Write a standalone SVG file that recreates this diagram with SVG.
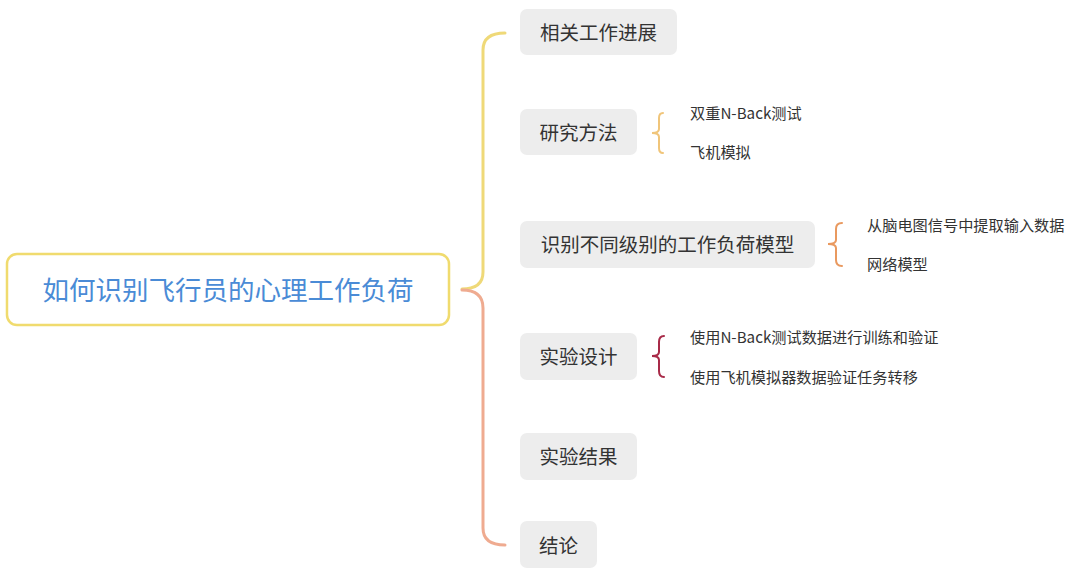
<svg xmlns="http://www.w3.org/2000/svg" width="1080" height="572" viewBox="0 0 1080 572">
<style>
text{font-family:"Noto Sans CJK SC","Liberation Sans",sans-serif;fill:#333333;dominant-baseline:central}
.node{fill:#ededed}
.t{font-size:19.5px;text-anchor:middle}
.c{font-size:15.2px}
.ln{fill:none;stroke-width:3;stroke-linecap:round}
.br{fill:none;stroke-width:2;stroke-linecap:round}
</style>
<rect width="1080" height="572" fill="#ffffff"/>
<g id="connectors">
<path class="ln" stroke="#efd978" d="M462,289 Q483,289 483,272 L483,50 Q483,33 505,33"/>
<path class="ln" stroke="#efab90" d="M462,290 Q483,290 483,308 L483,528 Q483,545 505,545"/>
<path class="br" stroke="#f0c57a" d="M663,113 Q659,113 659,118 L659,129 Q659,133 652,133 Q659,133 659,137 L659,148 Q659,153 663,153"/>
<path class="br" stroke="#e9995f" d="M842,223 Q836,223 836,229 L836,240 Q836,244 828,244 Q836,244 836,248 L836,260 Q836,266 842,266"/>
<path class="br" stroke="#a82a48" d="M664,336 Q659,336 659,342 L659,352 Q659,356 652,356 Q659,356 659,360 L659,371 Q659,377 664,377"/>
</g>
<g id="root">
<rect x="7" y="254" width="442" height="71" rx="10" fill="#ffffff" stroke="#f0db6e" stroke-width="2.5"/>
<text x="228" y="288" style="font-size:26.5px;fill:#4a8bd6;text-anchor:middle">如何识别飞行员的心理工作负荷</text>
</g>
<g id="n1"><rect class="node" x="520" y="9" width="157" height="46" rx="7"/><text class="t" x="598.5" y="31">相关工作进展</text></g>
<g id="n2"><rect class="node" x="520" y="109" width="117" height="46" rx="7"/><text class="t" x="578.5" y="131">研究方法</text></g>
<g id="n2a"><text class="c" x="690" y="112">双重N-Back测试</text></g>
<g id="n2b"><text class="c" x="690" y="151">飞机模拟</text></g>
<g id="n3"><rect class="node" x="520" y="221" width="295" height="47" rx="7"/><text class="t" x="667.5" y="243">识别不同级别的工作负荷模型</text></g>
<g id="n3a"><text class="c" x="867" y="224">从脑电图信号中提取输入数据</text></g>
<g id="n3b"><text class="c" x="867" y="263">网络模型</text></g>
<g id="n4"><rect class="node" x="520" y="333" width="117" height="47" rx="7"/><text class="t" x="578.5" y="355">实验设计</text></g>
<g id="n4a"><text class="c" x="690" y="336">使用N-Back测试数据进行训练和验证</text></g>
<g id="n4b"><text class="c" x="690" y="376">使用飞机模拟器数据验证任务转移</text></g>
<g id="n5"><rect class="node" x="520" y="433" width="117" height="47" rx="7"/><text class="t" x="578.5" y="455">实验结果</text></g>
<g id="n6"><rect class="node" x="520" y="521" width="77" height="47" rx="7"/><text class="t" x="558.5" y="544">结论</text></g>
</svg>
